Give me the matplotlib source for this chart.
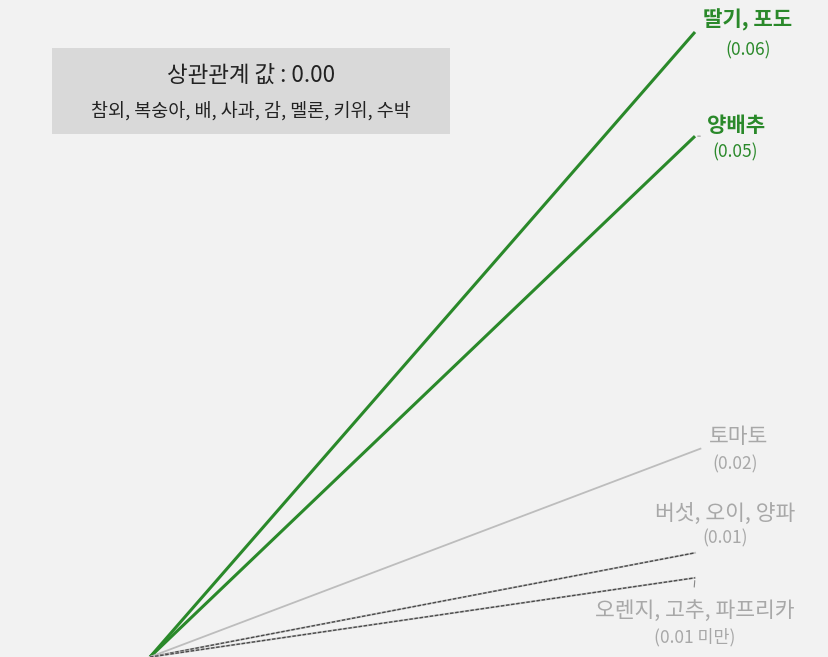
import matplotlib.pyplot as plt
from matplotlib.patches import Rectangle

plt.rcParams['font.family'] = ['Noto Sans CJK KR', 'DejaVu Sans']

# 품목 그룹별 상관관계 값
groups = ["딸기, 포도", "양배추", "토마토", "버섯, 오이, 양파", "오렌지, 고추, 파프리카"]
values = [0.06, 0.05, 0.02, 0.01, 0.0076]
value_labels = ["(0.06)", "(0.05)", "(0.02)", "(0.01)", "(0.01 미만)"]
zero_group = "참외, 복숭아, 배, 사과, 감, 멜론, 키위, 수박"
zero_title = "상관관계 값 : 0.00"

GREEN = "#2a892a"
GRAY_TXT = "#a8a8a8"
bg = "#f2f2f2"

W, H = 829, 657
fig = plt.figure(figsize=(W / 100, H / 100), dpi=100, facecolor=bg)
# x: 0 -> 150px, 1 -> 695px ; y: 0 -> bottom, 0.06 -> 32px
ax = fig.add_axes([150 / W, 0, 545 / W, 625 / H])
ax.set_xlim(0, 1)
ax.set_ylim(0, 0.06)
ax.axis('off')
ax.set_facecolor(bg)

# 선 스타일
for i, (g, v) in enumerate(zip(groups, values)):
    if v >= 0.05:
        ax.plot([0, 1], [0, v], color=GREEN, lw=2.2, clip_on=False, solid_capstyle='butt')
    elif v >= 0.02:
        ax.plot([0, 1.01], [0, v], color="#bdbdbd", lw=1.3, clip_on=False)
    else:
        ax.plot([0, 1], [0, v], color="#c4c4c4", lw=1.4, clip_on=False)
        ax.plot([0, 1], [0, v], color="#4a4a4a", lw=1.0, ls=(0, (2.5, 1.2)), clip_on=False)

# 라벨 위치 (끝점 기준 픽셀 오프셋)
name_off = [(53, 12), (41, 11), (38, 12), (30, 39), (0, -33)]
val_off = [(53, -18), (40, -16), (35, -16), (30, 14), (0, -59)]
ends = [1, 1, 1.01, 1, 1]
for i, (g, v) in enumerate(zip(groups, values)):
    green = v >= 0.05
    col = GREEN if green else GRAY_TXT
    ax.annotate(g, (ends[i], v), xytext=name_off[i], textcoords='offset pixels',
                ha='center', va='center', color=col, fontsize=15.2 if green else 15.5,
                fontweight='bold' if green else 'normal', annotation_clip=False)
    ax.annotate(value_labels[i], (ends[i], v), xytext=val_off[i], textcoords='offset pixels',
                ha='center', va='center', color=col, fontsize=12.5, annotation_clip=False)

# 작은 연결선
ax.annotate("", (1, values[1]), xytext=(8, 0), textcoords='offset pixels',
            arrowprops=dict(arrowstyle='-', color="#aaaaaa", lw=1), annotation_clip=False)
ax.annotate("", (1, values[4]), xytext=(-1, -12), textcoords='offset pixels',
            arrowprops=dict(arrowstyle='-', color="#888888", lw=0.8), annotation_clip=False)

# 상관관계 0 박스
fig.patches.append(Rectangle((52 / W, 1 - 134 / H), 398 / W, 86 / H,
                             transform=fig.transFigure, facecolor="#d9d9d9", edgecolor='none'))
fig.text(251 / W, 1 - 75 / H, zero_title, ha='center', va='center', fontsize=16.2, color="#222222")
fig.text(251 / W, 1 - 111 / H, zero_group, ha='center', va='center', fontsize=13.3, color="#222222")

fig.savefig("out.png", dpi=100, facecolor=bg)
